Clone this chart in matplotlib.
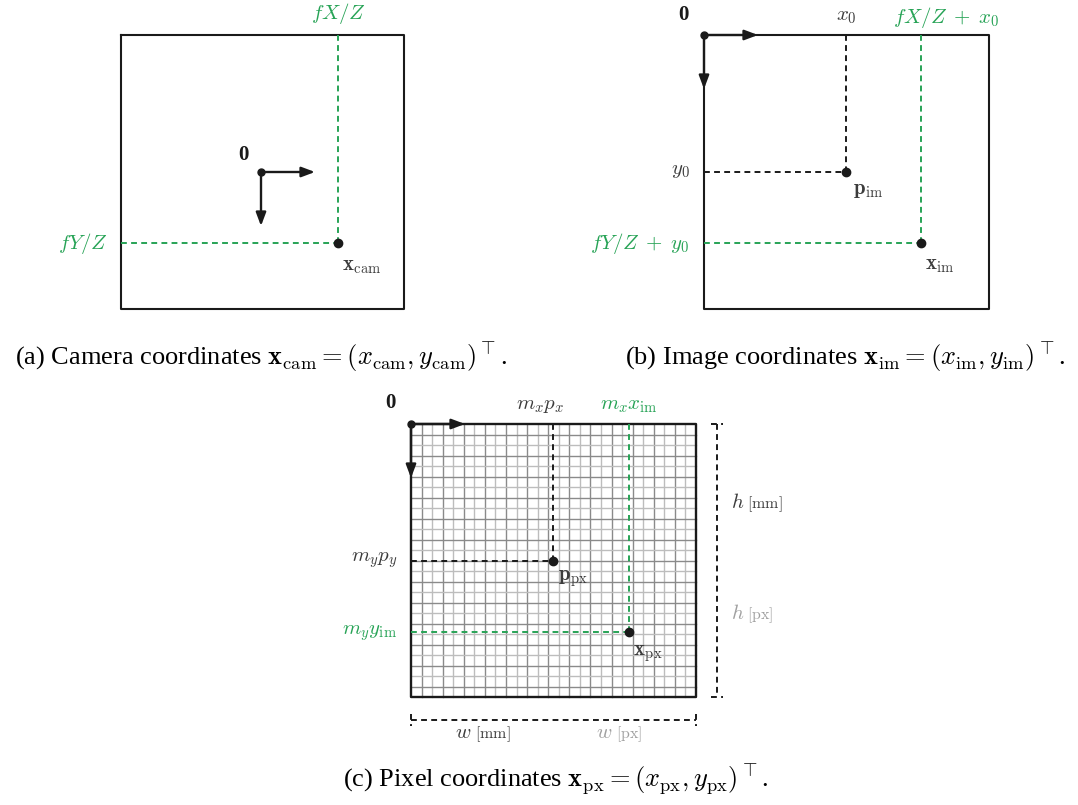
import matplotlib.pyplot as plt

plt.rcParams['mathtext.fontset'] = 'cm'
plt.rcParams['font.family'] = ['Liberation Serif', 'DejaVu Serif']

GREEN = '#27a356'
DARK = '#1a1a1a'
GREY = '#3c3c3c'
LIGHT = '#a0a0a0'

# boxes (left, top, right, bottom) in picture pixels
box_a = (121, 35, 404, 309)
box_b = (704, 35, 989, 309)
box_c = (411, 424, 696, 697)

# origins of the coordinate frames
origin_a = (261, 172)
origin_b = (704, 35)
origin_c = (411, 424)

# projected points
xcam = (338, 243)
pim = (846, 172)
xim = (921, 243)
ppx = (553, 561)
xpx = (629, 632)

n_cols = 27
n_rows = 26

LBL = 15

fig = plt.figure(figsize=(10.78, 8.05), dpi=100)
ax = fig.add_axes([0, 0, 1, 1])
ax.set_xlim(0, 1078)
ax.set_ylim(805, 0)
ax.axis('off')


def box(b, lw=1.5):
    l, t, r, bt = b
    ax.plot([l, r, r, l, l], [t, t, bt, bt, t], color=DARK, lw=lw, zorder=3)


def frame(o, length=54):
    ax.plot(o[0], o[1], 'o', color=DARK, ms=5, zorder=5)
    for dx, dy in [(length, 0), (0, length)]:
        ax.annotate('', xy=(o[0] + dx, o[1] + dy), xytext=o,
                    arrowprops=dict(arrowstyle='-|>,head_length=0.8,head_width=0.3',
                                    color=DARK, lw=1.7, shrinkA=0, shrinkB=0),
                    zorder=5)


def dashed(xs, ys, color):
    ax.plot(xs, ys, color=color, lw=1.4, dashes=(3, 2.2), zorder=4)


def point(p):
    ax.plot(p[0], p[1], 'o', color=DARK, ms=6, zorder=6)


def zero(x, y):
    ax.text(x, y, '0', fontsize=15, fontweight='bold', color=DARK, ha='center', va='center')


def dim_label(x, y, sym, unit, color, gap):
    ax.text(x, y, '$%s$' % sym, fontsize=LBL, color=color, ha='left', va='center')
    ax.text(x + gap, y + 1, r'$[\mathrm{%s}]$' % unit, fontsize=11.5, color=color, ha='left', va='center')


# ---- (a) camera coordinates
box(box_a)
frame(origin_a)
dashed([xcam[0], xcam[0]], [box_a[1], xcam[1]], GREEN)
dashed([box_a[0], xcam[0]], [xcam[1], xcam[1]], GREEN)
point(xcam)
zero(243, 155)
ax.text(xcam[0], 14, r'$fX/Z$', fontsize=LBL, color=GREEN, ha='center', va='center')
ax.text(108, xcam[1], r'$fY/Z$', fontsize=LBL, color=GREEN, ha='right', va='center')
ax.text(xcam[0] + 4, 266, r'$\mathbf{x}_{\mathrm{cam}}$', fontsize=LBL, color=GREY, ha='left', va='center')

# ---- (b) image coordinates
box(box_b)
frame(origin_b)
dashed([pim[0], pim[0]], [box_b[1], pim[1]], DARK)
dashed([box_b[0], pim[0]], [pim[1], pim[1]], DARK)
dashed([xim[0], xim[0]], [box_b[1], xim[1]], GREEN)
dashed([box_b[0], xim[0]], [xim[1], xim[1]], GREEN)
point(pim)
point(xim)
zero(683, 15)
ax.text(pim[0], 17, r'$x_0$', fontsize=LBL, color=GREY, ha='center', va='center')
ax.text(690, 170, r'$y_0$', fontsize=LBL, color=GREY, ha='right', va='center')
ax.text(946, 17, r'$fX/Z\;+\;x_0$', fontsize=LBL, color=GREEN, ha='center', va='center')
ax.text(690, xim[1], r'$fY/Z\;+\;y_0$', fontsize=LBL, color=GREEN, ha='right', va='center')
ax.text(pim[0] + 7, 190, r'$\mathbf{p}_{\mathrm{im}}$', fontsize=LBL, color=GREY, ha='left', va='center')
ax.text(xim[0] + 4, 265, r'$\mathbf{x}_{\mathrm{im}}$', fontsize=LBL, color=GREY, ha='left', va='center')

# ---- (c) pixel coordinates
l, t, r, bt = box_c
for i in range(1, n_cols):
    x = l + (r - l) * i / n_cols
    ax.plot([x, x], [t, bt], color='#8a8a8a' if i % 2 else '#bdbdbd', lw=1.0, zorder=2)
for j in range(1, n_rows):
    y = t + (bt - t) * j / n_rows
    ax.plot([l, r], [y, y], color='#8a8a8a' if j % 2 else '#bdbdbd', lw=1.0, zorder=2)
box(box_c, lw=1.7)
frame(origin_c)
dashed([ppx[0], ppx[0]], [t, ppx[1]], DARK)
dashed([l, ppx[0]], [ppx[1], ppx[1]], DARK)
dashed([xpx[0], xpx[0]], [t, xpx[1]], GREEN)
dashed([l, xpx[0]], [xpx[1], xpx[1]], GREEN)
point(ppx)
point(xpx)
zero(390, 403)
ax.text(540, 405, r'$m_xp_x$', fontsize=LBL, color=GREY, ha='center', va='center')
ax.text(629, 405, r'$m_xx_{\mathrm{im}}$', fontsize=LBL, color=GREEN, ha='center', va='center')
ax.text(397, 560, r'$m_yp_y$', fontsize=LBL, color=GREY, ha='right', va='center')
ax.text(397, 633, r'$m_yy_{\mathrm{im}}$', fontsize=LBL, color=GREEN, ha='right', va='center')
ax.text(ppx[0] + 5, 579, r'$\mathbf{p}_{\mathrm{px}}$', fontsize=LBL, color=GREY, ha='left', va='center')
ax.text(xpx[0] + 4, 654, r'$\mathbf{x}_{\mathrm{px}}$', fontsize=LBL, color=GREY, ha='left', va='center')

# dimension lines
dx = 717
dashed([dx, dx], [t, bt], DARK)
ax.plot([dx - 6, dx + 6], [t, t], color=DARK, lw=1.4, dashes=(3, 2.2))
ax.plot([dx - 6, dx + 6], [bt, bt], color=DARK, lw=1.4, dashes=(3, 2.2))
dy = 720
dashed([l, r], [dy, dy], DARK)
ax.plot([l, l], [dy - 6, dy + 6], color=DARK, lw=1.4, dashes=(3, 2.2))
ax.plot([r, r], [dy - 6, dy + 6], color=DARK, lw=1.4, dashes=(3, 2.2))
dim_label(731, 503, 'h', 'mm', GREY, 16)
dim_label(731, 614, 'h', 'px', LIGHT, 16)
dim_label(455, 733, 'w', 'mm', GREY, 20)
dim_label(596, 733, 'w', 'px', LIGHT, 20)

# captions
cap = 19
ax.text(261, 358, r'(a) Camera coordinates $\mathbf{x}_{\mathrm{cam}} = (x_{\mathrm{cam}}, y_{\mathrm{cam}})^{\top}$.',
        fontsize=cap, color='black', ha='center', va='center')
ax.text(845, 358, r'(b) Image coordinates $\mathbf{x}_{\mathrm{im}} = (x_{\mathrm{im}}, y_{\mathrm{im}})^{\top}$.',
        fontsize=cap, color='black', ha='center', va='center')
ax.text(556, 780, r'(c) Pixel coordinates $\mathbf{x}_{\mathrm{px}} = (x_{\mathrm{px}}, y_{\mathrm{px}})^{\top}$.',
        fontsize=cap, color='black', ha='center', va='center')

fig.savefig('out.png', dpi=100)
